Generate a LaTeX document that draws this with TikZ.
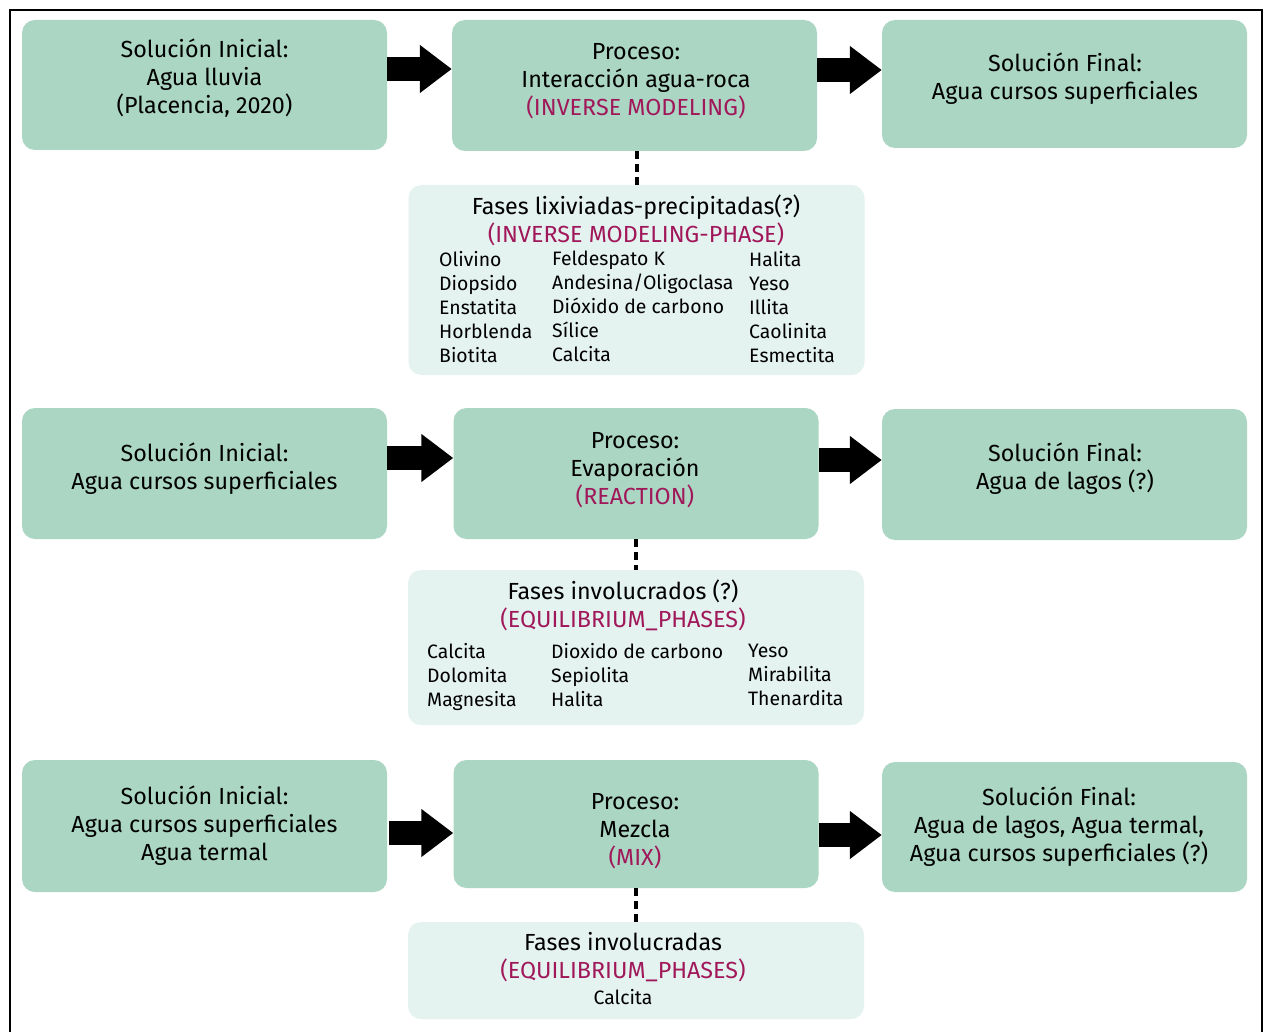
\documentclass[tikz,border=0pt]{standalone}
\usepackage{fontspec}
\setmainfont{Fira Sans}
\usetikzlibrary{arrows.meta,calc}
\definecolor{boxgreen}{HTML}{ABD6C4}
\definecolor{boxlight}{HTML}{E4F2F0}
\definecolor{mag}{HTML}{A0185A}
\begin{document}
\begin{tikzpicture}[x=1pt,y=-1pt,
 bigbox/.style={fill=boxgreen, rounded corners=13pt, minimum width=365pt, draw=none, inner sep=0pt},
 phbox/.style={fill=boxlight, rounded corners=13pt, minimum width=456pt, draw=none, inner sep=0pt},
 txt/.style={font=\fontsize{23.3}{28}\selectfont, align=center, inner sep=0pt},
 lst/.style={font=\fontsize{19.4}{24}\selectfont, align=left, inner sep=0pt, anchor=north west},
 flow/.style={line width=24pt, -{Triangle[length=32pt,width=46pt]}},
 dots/.style={line width=4pt, dash pattern=on 8pt off 5pt}]
\useasboundingbox (0,0) rectangle (1266,1032);
\fill[white] (0,0) rectangle (1266,1032);
\draw[line width=2pt] (10,10) rectangle (1262,1050);

% Row 1
\node[bigbox, minimum height=130pt] (i1) at (204.5,85) {};
\node[bigbox, minimum height=131pt] (p1) at (634.5,85.5) {};
\node[bigbox, minimum height=128pt] (f1) at (1064.5,84) {};
\node[phbox, minimum height=190pt] (ph1) at (636.5,280) {};
\node[txt] (i1t) at (204.5,78) {Solución Inicial:\\Agua lluvia\\(Placencia, 2020)};
\node[txt] (p1t) at (636,81) {Proceso:\\Interacción agua-roca\\\textcolor{mag}{(INVERSE MODELING)}};
\node[txt] (f1t) at (1065,79) {Solución Final:\\Agua cursos superficiales};
\node[txt] (ph1t) at (636,220) {Fases lixiviadas-precipitadas(?)\\\textcolor{mag}{(INVERSE MODELING-PHASE)}};
\node[lst] (ph1a) at (439,251) {\vphantom{l}Olivino\\Diopsido\\Enstatita\\Horblenda\\Biotita};
\node[lst] (ph1b) at (552,251) {\vphantom{l}Feldespato K\\Andesina/Oligoclasa\\Dióxido de carbono\\Sílice\\Calcita};
\node[lst] (ph1c) at (749,251) {\vphantom{l}Halita\\Yeso\\Illita\\Caolinita\\Esmectita};

% Row 2
\node[bigbox, minimum height=131pt] (i2) at (204.5,473.5) {};
\node[bigbox, minimum height=131pt] (p2) at (636,473.5) {};
\node[bigbox, minimum height=131pt] (f2) at (1064.5,474.5) {};
\node[phbox, minimum height=155pt] (ph2) at (636,647.5) {};
\node[txt] (i2t) at (204.5,469) {Solución Inicial:\\Agua cursos superficiales};
\node[txt] (p2t) at (635,470) {Proceso:\\Evaporación\\\textcolor{mag}{(REACTION)}};
\node[txt] (f2t) at (1065,469) {Solución Final:\\Agua de lagos (?)};
\node[txt] (ph2t) at (623,605) {Fases involucrados (?)\\\textcolor{mag}{(EQUILIBRIUM\_PHASES)}};
\node[lst] (ph2a) at (427,643) {\vphantom{l}Calcita\\Dolomita\\Magnesita};
\node[lst] (ph2b) at (551,643) {\vphantom{l}Dioxido de carbono\\Sepiolita\\Halita};
\node[lst] (ph2c) at (748,643) {\vphantom{l}Yeso\\Mirabilita\\Thenardita};

% Row 3
\node[bigbox, minimum height=132pt] (i3) at (204.5,826) {};
\node[bigbox, minimum height=128pt] (p3) at (636,824) {};
\node[bigbox, minimum height=130pt] (f3) at (1064.5,827) {};
\node[phbox, minimum height=97pt] (ph3) at (636,970.5) {};
\node[txt] (i3t) at (204.5,826) {Solución Inicial:\\Agua cursos superficiales\\Agua termal};
\node[txt] (p3t) at (635,831) {Proceso:\\Mezcla\\\textcolor{mag}{(MIX)}};
\node[txt] (f3t) at (1059,827) {Solución Final:\\Agua de lagos, Agua termal,\\Agua cursos superficiales (?)};
\node[txt] (ph3t) at (623,957) {Fases involucradas\\\textcolor{mag}{(EQUILIBRIUM\_PHASES)}};
\node[lst, anchor=center] (ph3a) at (623,997) {Calcita};

% Arrows
\coordinate (a1) at ([yshift=16pt]i1.east);
\coordinate (a2) at ([yshift=15.5pt]p1.east);
\coordinate (a3) at ([yshift=15.5pt]i2.east);
\coordinate (a4) at ([yshift=13.5pt]p2.east);
\coordinate (a5) at ([yshift=-7pt]i3.east);
\coordinate (a6) at ([yshift=-11pt]p3.east);
\draw[flow] (a1) -- (a1 -| p1.west);
\draw[flow] (a2) -- (a2 -| f1.west);
\draw[flow] (a3) -- (a3 -| p2.west);
\draw[flow] (a4) -- (a4 -| f2.west);
\draw[flow] ([xshift=2pt]a5) -- (a5 -| p3.west);
\draw[flow] (a6) -- (a6 -| f3.west);

% Dotted links
\draw[dots] (ph1.north |- p1.south) -- (ph1.north);
\draw[dots] (ph2.north |- p2.south) -- (ph2.north);
\draw[dots] (ph3.north |- p3.south) -- (ph3.north);
\end{tikzpicture}
\end{document}
